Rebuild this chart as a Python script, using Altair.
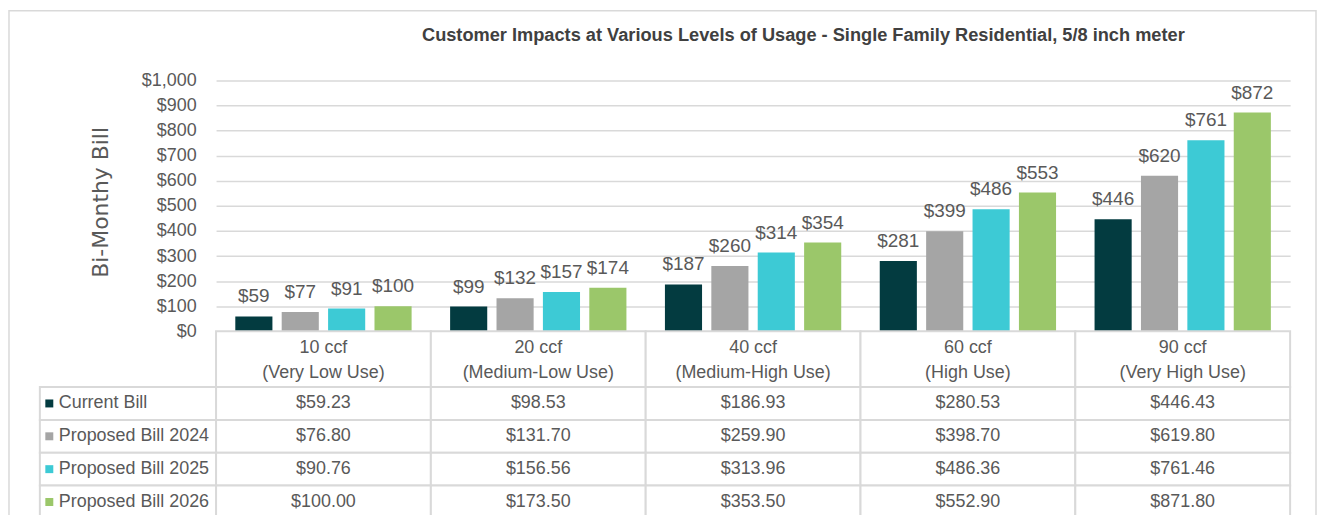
import altair as alt
import pandas as pd

# ---- data ----
usage = ["10 ccf", "20 ccf", "40 ccf", "60 ccf", "90 ccf"]
usage_level = ["(Very Low Use)", "(Medium-Low Use)", "(Medium-High Use)", "(High Use)", "(Very High Use)"]
series = ["Current Bill", "Proposed Bill 2024", "Proposed Bill 2025", "Proposed Bill 2026"]
current_bill = [59.23, 98.53, 186.93, 280.53, 446.43]
proposed_2024 = [76.80, 131.70, 259.90, 398.70, 619.80]
proposed_2025 = [90.76, 156.56, 313.96, 486.36, 761.46]
proposed_2026 = [100.00, 173.50, 353.50, 552.90, 871.80]
y_ticks = [0, 100, 200, 300, 400, 500, 600, 700, 800, 900, 1000]
colors = ["#033B40", "#A5A5A5", "#3DCAD5", "#9BC76A"]
chart_title = "Customer Impacts at Various Levels of Usage - Single Family Residential, 5/8 inch meter"
y_title = "Bi-Monthy Bill"

values_by_series = [current_bill, proposed_2024, proposed_2025, proposed_2026]
rows = []
for s, vals in zip(series, values_by_series):
    for u, v in zip(usage, vals):
        rows.append({"usage": u, "series": s, "value": v})
df = pd.DataFrame(rows)
header_df = pd.DataFrame({"usage": usage, "level": usage_level})
series_df = pd.DataFrame({"series": series})
one = pd.DataFrame({"k": [0]})

# ---- styling ----
FONT = "Liberation Sans, Arial, sans-serif"
TXT = "#595959"
GRID = "#D9D9D9"
W, H = 1079, 252
HEAD_H = 56
ROW_H = 33
FS = 18

xsc = alt.Scale(domain=usage, paddingInner=0, paddingOuter=0)
xoff = alt.Scale(domain=series, paddingInner=0.2, paddingOuter=0.415)
color = alt.Color("series:N", scale=alt.Scale(domain=series, range=colors), legend=None)

base = alt.Chart(df).encode(
    x=alt.X("usage:N", scale=xsc, axis=None, sort=usage),
    xOffset=alt.XOffset("series:N", scale=xoff, sort=series),
    y=alt.Y(
        "value:Q",
        scale=alt.Scale(domain=[0, 1000], nice=False),
        axis=alt.Axis(
            values=y_ticks, format="$,.0f", title=y_title,
            grid=True, gridColor=GRID, gridWidth=1.5,
            domain=False, ticks=False,
            labelFont=FONT, labelFontSize=FS, labelColor=TXT, labelPadding=20,
            titleFont="DejaVu Sans", titleFontSize=22, titleFontWeight="normal",
            titleColor=TXT, titleX=-116, titleY=122, titleAngle=270,
            titleAlign="center", titleBaseline="middle",
        ),
    ),
)
bars = base.mark_bar().encode(color=color)
bar_labels = base.mark_text(baseline="alphabetic", dy=-14, font=FONT, fontSize=19, color=TXT).encode(
    text=alt.Text("value:Q", format="$,.0f")
)
frame = alt.Chart(one).mark_rect(fill=None, stroke=GRID, strokeWidth=1.5).encode(
    x=alt.value(-208), x2=alt.value(1105), y=alt.value(-70), y2=alt.value(700)
)
title_mark = alt.Chart(one).mark_text(
    text=chart_title, font=FONT, fontSize=18.3, fontWeight="bold", color="#404040",
    align="center", baseline="alphabetic",
).encode(x=alt.value(590), y=alt.value(-40))

top = alt.layer(frame, bars, bar_labels, title_mark).properties(width=W, height=H)

# header row of the table
hbase = alt.Chart(header_df).transform_calculate(
    label="datum.usage + '\\n' + datum.level"
).encode(x=alt.X("usage:N", scale=xsc, axis=None, sort=usage))
hcells = hbase.mark_rect(fill="white", stroke=GRID, strokeWidth=2).encode(
    y=alt.value(0), y2=alt.value(HEAD_H)
)
htext = hbase.mark_text(
    lineBreak="\n", lineHeight=25, font=FONT, fontSize=FS, color=TXT, baseline="middle"
).encode(text="label:N", y=alt.value(17))
header = alt.layer(hcells, htext).properties(width=W, height=HEAD_H)

# body of the table
ysc = alt.Scale(domain=series, paddingInner=0, paddingOuter=0)
bbase = alt.Chart(df).encode(
    x=alt.X("usage:N", scale=xsc, axis=None, sort=usage),
    y=alt.Y("series:N", scale=ysc, axis=None, sort=series),
)
bcells = bbase.mark_rect(fill="white", stroke=GRID, strokeWidth=2)
btext = bbase.mark_text(font=FONT, fontSize=FS, color=TXT, baseline="middle").encode(
    text=alt.Text("value:Q", format="$,.2f")
)
lbase = alt.Chart(series_df).encode(y=alt.Y("series:N", scale=ysc, axis=None, sort=series))
lcells = lbase.mark_rect(fill="white", stroke=GRID, strokeWidth=2).encode(
    x=alt.value(-177), x2=alt.value(0)
)
lsquares = lbase.mark_square(size=64, opacity=1).encode(x=alt.value(-167.5), color=color)
ltext = lbase.mark_text(align="left", baseline="middle", font=FONT, fontSize=FS, color=TXT).encode(
    x=alt.value(-158), text="series:N"
)
body = alt.layer(bcells, btext, lcells, lsquares, ltext).properties(width=W, height=ROW_H * 4)

chart = (
    alt.vconcat(top, header, body, spacing=0, bounds="flush")
    .resolve_scale(x="independent", y="independent", color="shared")
    .properties(padding=0, background="white")
    .configure_view(stroke=None)
)

chart.save("out.html", embed_options={"renderer": "svg", "actions": False})
